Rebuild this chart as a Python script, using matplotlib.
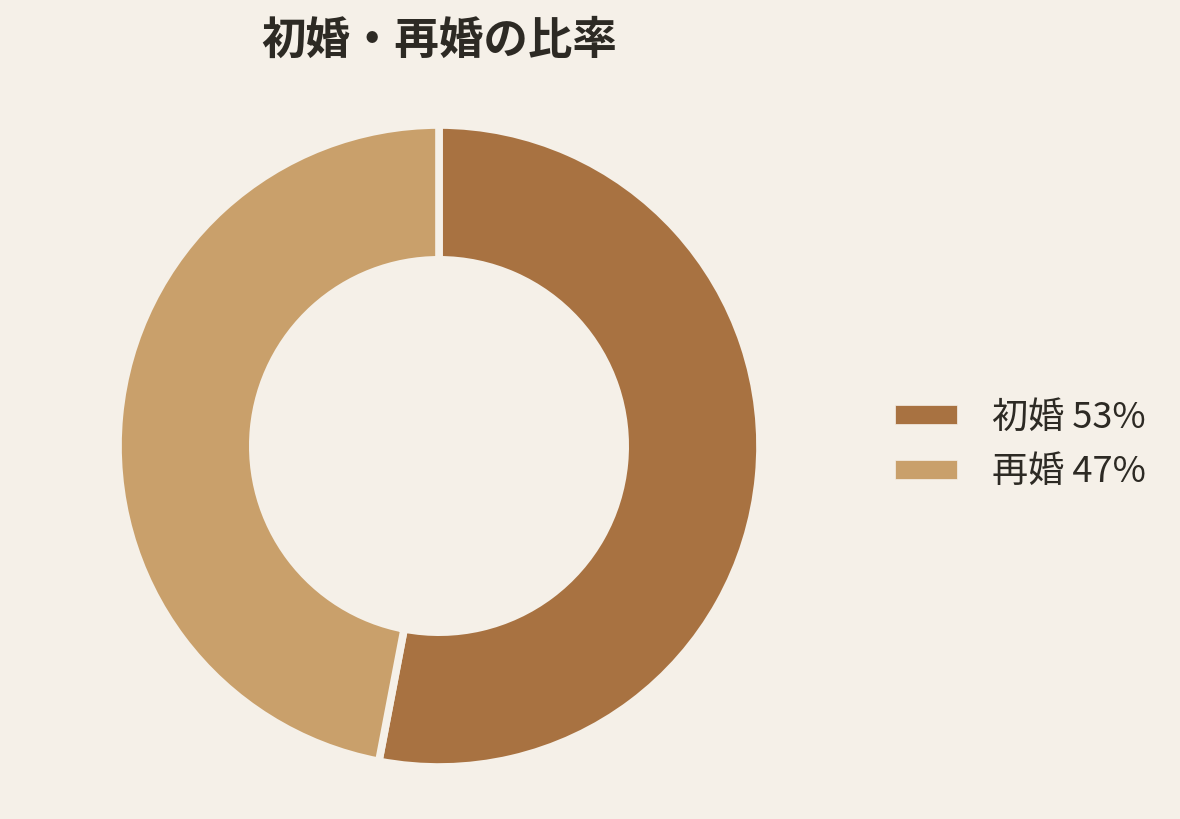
import matplotlib
matplotlib.use("Agg")
import matplotlib.pyplot as plt

# データ
labels = ["初婚", "再婚"]
values = [53, 47]
colors = ["#A87241", "#C9A06B"]

bg = "#F5F0E8"
text_color = "#2D2A24"

plt.rcParams['font.family'] = ['Noto Sans CJK JP', 'DejaVu Sans']

fig = plt.figure(figsize=(11.8, 8.19), dpi=100, facecolor=bg)

# 円グラフ用の軸（中心 約(439, 446) px、半径 約321 px）
r_px = 321
cx, cy = 439, 446
ax = fig.add_axes([(cx - r_px) / 1180, (819 - cy - r_px) / 819,
                   2 * r_px / 1180, 2 * r_px / 819])
ax.set_facecolor(bg)

wedges, _ = ax.pie(values, colors=colors, startangle=90, counterclock=False,
                   radius=1.0,
                   wedgeprops=dict(width=0.42, edgecolor=bg, linewidth=5.5))
ax.set_xlim(-1, 1)
ax.set_ylim(-1, 1)
ax.set_aspect('equal')
ax.axis('off')

fig.text(cx / 1180, 1 - 41 / 819, "初婚・再婚の比率", ha='center', va='center',
         fontsize=32, fontweight='bold', color=text_color)

leg_labels = [f"{l} {v}%" for l, v in zip(labels, values)]
leg = fig.legend(wedges, leg_labels, loc='center left',
                 bbox_to_anchor=(862 / 1180, 1 - 445 / 819),
                 frameon=False, fontsize=26, labelcolor=text_color,
                 handlelength=1.74, handleheight=0.42, handletextpad=0.97,
                 labelspacing=0.52)
for h in leg.legend_handles:
    h.set_edgecolor(bg)
    h.set_linewidth(0.5)

fig.savefig("out.png", dpi=100, facecolor=bg)
